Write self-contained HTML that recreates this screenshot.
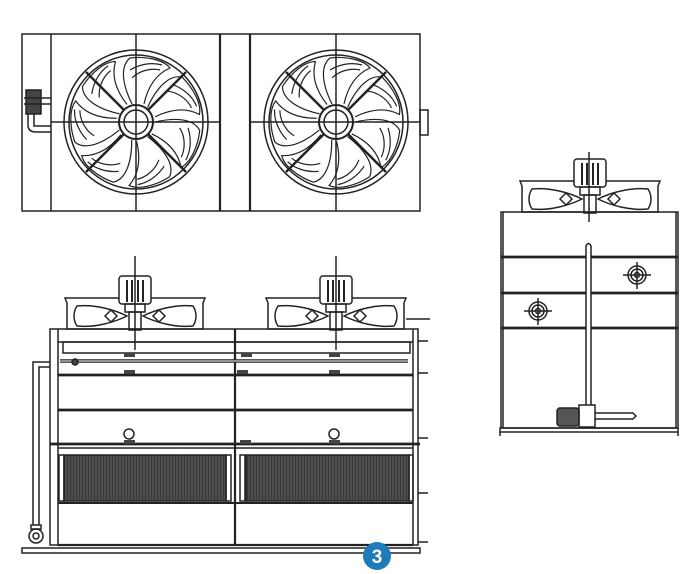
<!DOCTYPE html>
<html><head><meta charset="utf-8"><style>
html,body{margin:0;padding:0;background:#fff;width:700px;height:574px;overflow:hidden}
svg{display:block}
</style></head><body>
<svg width="700" height="574" viewBox="0 0 700 574" xmlns="http://www.w3.org/2000/svg" fill="none" stroke="#222" stroke-width="1.5">
<defs>
<pattern id="coil" width="3" height="10" patternUnits="userSpaceOnUse">
  <rect width="3" height="10" fill="#4e4e4e" stroke="none"/>
  <line x1="1.5" y1="0" x2="1.5" y2="10" stroke="#333" stroke-width="0.8"/>
</pattern>
<g id="fan">
  <circle r="72"/><circle r="67"/>
  <circle r="17" stroke-width="2"/><circle r="12"/>
  <g stroke-width="1.2">
    <g id="bl">
      <path d="M-4,-18 C-14,-38 -16,-56 -6,-64 C10,-66 28,-62 34,-54 C20,-48 12,-36 8,-18"/>
      <path d="M-4,-44 C4,-52 16,-54 24,-52"/>
      <path d="M-6,-52 C4,-58 16,-60 26,-57"/>
    </g>
    <use href="#bl" transform="rotate(51)"/><use href="#bl" transform="rotate(103)"/>
    <use href="#bl" transform="rotate(154)"/><use href="#bl" transform="rotate(206)"/>
    <use href="#bl" transform="rotate(257)"/><use href="#bl" transform="rotate(309)"/>
  </g>
  <line x1="-50" y1="-50" x2="-12" y2="-12" stroke-width="2.4"/>
  <line x1="50" y1="-50" x2="12" y2="-12" stroke-width="2.4"/>
  <line x1="-50" y1="50" x2="-12" y2="12" stroke-width="2.4"/>
  <line x1="50" y1="50" x2="12" y2="12" stroke-width="2.4"/>
</g>
<g id="hf">
  <path d="M-70,0 L-68,5 L-68,31 L68,31 L68,5 L70,0 Z"/>
  <path d="M-58,8 C-40,6 -20,12 -8,18 C-20,24 -40,30 -58,28 C-62,22 -62,14 -58,8 Z"/>
  <path d="M58,8 C40,6 20,12 8,18 C20,24 40,30 58,28 C62,22 62,14 58,8 Z"/>
  <path d="M-30,18 L-24,12 L-18,18 L-24,24 Z"/><path d="M30,18 L24,12 L18,18 L24,24 Z"/>
  <rect x="-16" y="-22" width="32" height="28" rx="3" fill="#fff"/>
  <path d="M-8,-18 V4 M-3,-18 V4 M3,-18 V4 M8,-18 V4" stroke-width="2"/>
  <rect x="-10" y="6" width="20" height="8"/>
  <rect x="-6" y="14" width="12" height="18"/>
</g>
</defs>

<!-- TOP VIEW -->
<rect x="22" y="34" width="398" height="177"/>
<line x1="51" y1="34" x2="51" y2="211"/>
<line x1="220" y1="34" x2="220" y2="211" stroke-width="2.2"/>
<line x1="250" y1="34" x2="250" y2="211" stroke-width="2.2"/>
<rect x="420" y="110" width="8" height="25"/>
<line x1="51" y1="122" x2="220" y2="122"/><line x1="136" y1="34" x2="136" y2="211"/>
<line x1="250" y1="122" x2="420" y2="122"/><line x1="336" y1="34" x2="336" y2="211"/>
<use href="#fan" x="136" y="122"/>
<use href="#fan" x="336" y="122"/>
<rect x="26" y="90" width="15" height="24" fill="#444"/>
<path d="M28,114 V125 Q28,132 36,132 H51 M34,114 V126 H51"/>
<path d="M24,98 H51 M24,104 H51"/>

<!-- FRONT VIEW -->
<rect x="22" y="548" width="398" height="5"/>
<rect x="50" y="329" width="368" height="216"/>
<line x1="58" y1="329" x2="58" y2="545"/><line x1="413" y1="329" x2="413" y2="545"/>
<line x1="235" y1="329" x2="235" y2="545" stroke-width="2.2"/>
<line x1="58" y1="342" x2="413" y2="342"/>
<rect x="63" y="342" width="347" height="11"/>
<line x1="60" y1="361" x2="408" y2="361" stroke-width="3.5"/>
<line x1="60" y1="361" x2="408" y2="361" stroke="#fff" stroke-width="1"/>
<circle cx="75" cy="362" r="3" fill="#444"/>
<line x1="58" y1="375" x2="413" y2="375" stroke-width="2.7"/>
<line x1="58" y1="410" x2="413" y2="410" stroke-width="2.7"/>
<line x1="50" y1="444" x2="420" y2="444" stroke-width="2.7"/>
<line x1="58" y1="448" x2="413" y2="448"/>
<rect x="64" y="455" width="162" height="46" fill="url(#coil)"/>
<rect x="246" y="455" width="163" height="46" fill="url(#coil)"/>
<rect x="59" y="455" width="5" height="46"/><rect x="226" y="455" width="5" height="46"/>
<rect x="240" y="455" width="5" height="46"/><rect x="409" y="455" width="4" height="46"/>
<line x1="58" y1="503" x2="413" y2="503" stroke-width="2"/>
<line x1="58" y1="545" x2="413" y2="545" stroke-width="2.2"/>
<g fill="#444" stroke="none">
<rect x="124" y="353" width="11" height="4"/><rect x="241" y="353" width="11" height="4"/><rect x="329" y="353" width="11" height="4"/>
<rect x="124" y="370" width="11" height="4"/><rect x="237" y="370" width="11" height="4"/><rect x="329" y="370" width="11" height="4"/>
<rect x="124" y="440" width="11" height="4"/><rect x="240" y="440" width="11" height="4"/><rect x="329" y="440" width="11" height="4"/>
</g>
<circle cx="129" cy="434" r="5"/><circle cx="334" cy="434" r="5"/>
<use href="#hf" x="135" y="298"/>
<use href="#hf" x="336" y="298"/>
<line x1="135" y1="256" x2="135" y2="350"/><line x1="336" y1="256" x2="336" y2="350"/>
<path d="M406,319 H430"/>
<path d="M418,341 H428 M418,373 H428 M418,438 H428 M418,493 H428 M418,542 H428"/>
<path d="M33,525 V362 H50 M39,525 V367 H50"/>
<circle cx="36" cy="536" r="7"/><circle cx="36" cy="536" r="3"/>
<rect x="31" y="525" width="10" height="4"/>

<!-- SIDE VIEW -->
<rect x="501" y="212" width="177" height="216"/>
<rect x="500" y="428" width="178" height="4"/>
<line x1="503" y1="212" x2="503" y2="428"/><line x1="676" y1="212" x2="676" y2="428"/>
<line x1="501" y1="257" x2="678" y2="257" stroke-width="2.7"/>
<line x1="501" y1="293" x2="678" y2="293" stroke-width="2.7"/>
<line x1="501" y1="328" x2="678" y2="328" stroke-width="2.7"/>
<use href="#hf" x="590" y="181"/>
<line x1="589" y1="152" x2="589" y2="222"/>
<path d="M586,405 V246 Q588.5,241 591,246 V405" fill="#fff"/>
<g><circle cx="637" cy="275" r="9"/><circle cx="637" cy="275" r="6"/><circle cx="637" cy="275" r="2.5"/><path d="M623,275 H651 M637,262 V289"/></g>
<g><circle cx="538" cy="311" r="9"/><circle cx="538" cy="311" r="6"/><circle cx="538" cy="311" r="2.5"/><path d="M524,311 H552 M538,298 V325"/></g>
<rect x="557" y="408" width="22" height="18" rx="3" fill="#555"/>
<rect x="579" y="405" width="16" height="22"/>
<path d="M595,413 H633 L636,416 L633,419 H595"/>
<line x1="500" y1="432" x2="500" y2="436"/><line x1="678" y1="432" x2="678" y2="436"/>

<!-- badge -->
<circle cx="377" cy="556" r="14" fill="#1f7bb9" stroke="none"/>
<text x="377" y="563" text-anchor="middle" font-family="Liberation Sans, sans-serif" font-size="19" font-weight="bold" fill="#fff" stroke="none">3</text>
</svg>
</body></html>
